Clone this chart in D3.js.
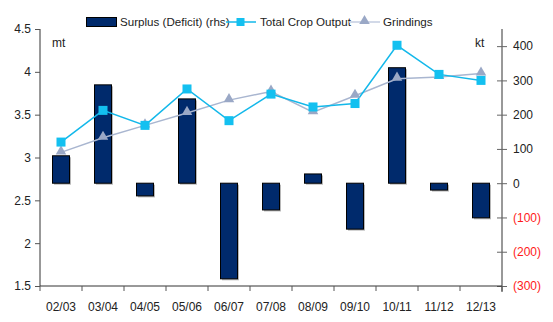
<!DOCTYPE html>
<html>
<head>
<meta charset="utf-8">
<script src="https://cdn.jsdelivr.net/npm/d3@7"></script>
<style>
  body { margin: 0; background: #fff; }
  text { font-family: "Liberation Sans", Arial, sans-serif; }
</style>
</head>
<body>
<script>
// season labels
var seasons = ["02/03", "03/04", "04/05", "05/06", "06/07", "07/08", "08/09", "09/10", "10/11", "11/12", "12/13"];
// surplus / deficit, kt (right axis)
var surplus = [80, 287, -37, 246, -279, -78, 27, -134, 337, -20, -101];
// total crop output, mt (left axis)
var cropOutput = [3.18, 3.55, 3.375, 3.80, 3.43, 3.74, 3.59, 3.63, 4.31, 3.97, 3.90];
// grindings, mt (left axis)
var grindings = [3.06, 3.23, 3.375, 3.52, 3.67, 3.77, 3.53, 3.72, 3.92, 3.94, 3.98];

var leftTicks = [1.5, 2, 2.5, 3, 3.5, 4, 4.5];
var rightTicks = [-300, -200, -100, 0, 100, 200, 300, 400];

var margin = {top: 29, right: 51, bottom: 36, left: 40},
    width = 553 - margin.left - margin.right,
    height = 322 - margin.top - margin.bottom;

var svg = d3.select("body").append("svg")
    .attr("width", 553)
    .attr("height", 322);

var g = svg.append("g")
    .attr("transform", "translate(" + margin.left + "," + margin.top + ")");

var xc = d3.scaleBand().domain(seasons).range([0, width]);
var yL = d3.scaleLinear().domain([1.5, 4.5]).range([height, 0]);
var yR = d3.scaleLinear().domain([-300, 450]).range([height, 0]);

var barW = 17;
var cx = (d, i) => xc(seasons[i]) + xc.bandwidth() / 2;

// bars with a soft drop shadow
var bars = g.selectAll(".bar").data(surplus).enter().append("g");
bars.append("rect")
    .attr("x", (d, i) => cx(d, i) - barW / 2 + 1.5)
    .attr("y", d => Math.min(yR(d), yR(0)) + 1.5)
    .attr("width", barW)
    .attr("height", d => Math.abs(yR(d) - yR(0)))
    .attr("fill", "#b8b8b8");
bars.append("rect")
    .attr("x", (d, i) => cx(d, i) - barW / 2)
    .attr("y", d => Math.min(yR(d), yR(0)))
    .attr("width", barW)
    .attr("height", d => Math.abs(yR(d) - yR(0)))
    .attr("fill", "#002a6c")
    .attr("stroke", "#000")
    .attr("stroke-width", 1);

// grindings line
g.append("path")
    .datum(grindings)
    .attr("fill", "none")
    .attr("stroke", "#a9b6d0")
    .attr("stroke-width", 1.5)
    .attr("d", d3.line().x(cx).y(d => yL(d)));

// crop output line
g.append("path")
    .datum(cropOutput)
    .attr("fill", "none")
    .attr("stroke", "#13b8ea")
    .attr("stroke-width", 1.5)
    .attr("d", d3.line().x(cx).y(d => yL(d)));

var tri = d3.symbol().type(d3.symbolTriangle).size(48);
g.selectAll(".tri").data(grindings).enter().append("path")
    .attr("d", tri)
    .attr("transform", (d, i) => "translate(" + cx(d, i) + "," + (yL(d) - 1) + ")")
    .attr("fill", "#9aa8c6");

g.selectAll(".sq").data(cropOutput).enter().append("rect")
    .attr("x", (d, i) => cx(d, i) - 4.5)
    .attr("y", d => yL(d) - 4.5)
    .attr("width", 9)
    .attr("height", 9)
    .attr("fill", "#13c0f0");

// axes
var axisL = g.append("g").call(d3.axisLeft(yL).tickValues(leftTicks).tickSize(5).tickFormat(d3.format("")));
axisL.select(".domain").attr("stroke", "#333").attr("d", "M0,0V" + height);
axisL.selectAll(".tick line").attr("stroke", "#555");
axisL.selectAll("text").attr("font-size", 12).attr("fill", "#222").attr("x", -9);

var axisR = g.append("g").attr("transform", "translate(" + width + ",0)")
    .call(d3.axisRight(yR).tickValues(rightTicks).tickSize(5)
      .tickFormat(d => d < 0 ? "(" + (-d) + ")" : d));
axisR.select(".domain").attr("stroke", "#333").attr("d", "M0,0V" + (height + 6));
axisR.selectAll(".tick line").attr("stroke", "#666").attr("x1", -5);
axisR.selectAll("text").attr("font-size", 12).attr("x", 11)
    .attr("fill", d => d < 0 ? "#ff1a1a" : "#222");

var axisB = g.append("g").attr("transform", "translate(0," + height + ")")
    .call(d3.axisBottom(xc).tickSize(0).tickPadding(16));
axisB.select(".domain").attr("stroke", "#333").attr("d", "M0,0H" + width);
axisB.selectAll("text").attr("font-size", 12).attr("fill", "#222");
axisB.selectAll(".sep").data(d3.range(seasons.length + 1)).enter().append("line")
    .attr("x1", i => i * xc.step()).attr("x2", i => i * xc.step())
    .attr("y1", 0).attr("y2", 5)
    .attr("stroke", "#555");

// unit labels
g.append("text").attr("x", 12).attr("y", 18).attr("font-size", 12).attr("fill", "#222").text("mt");
g.append("text").attr("x", width - 27).attr("y", 18).attr("font-size", 12).attr("fill", "#222").text("kt");

// legend
var leg = svg.append("g").attr("font-size", 11.6).attr("fill", "#222");
leg.append("rect").attr("x", 86.5).attr("y", 17.5).attr("width", 30).attr("height", 9)
    .attr("fill", "#002a6c").attr("stroke", "#000");
leg.append("text").attr("x", 120).attr("y", 26).text("Surplus (Deficit) (rhs)");
leg.append("line").attr("x1", 226).attr("x2", 256).attr("y1", 22).attr("y2", 22)
    .attr("stroke", "#13b8ea").attr("stroke-width", 1.5);
leg.append("rect").attr("x", 236.5).attr("y", 18).attr("width", 8).attr("height", 8).attr("fill", "#13c0f0");
leg.append("text").attr("x", 260).attr("y", 26).text("Total Crop Output");
leg.append("line").attr("x1", 349).attr("x2", 380).attr("y1", 22).attr("y2", 22)
    .attr("stroke", "#c3cde0").attr("stroke-width", 1.5);
leg.append("path").attr("d", tri).attr("transform", "translate(364.5,21)").attr("fill", "#9aa8c6");
leg.append("text").attr("x", 383).attr("y", 26).text("Grindings");
</script>
</body>
</html>
